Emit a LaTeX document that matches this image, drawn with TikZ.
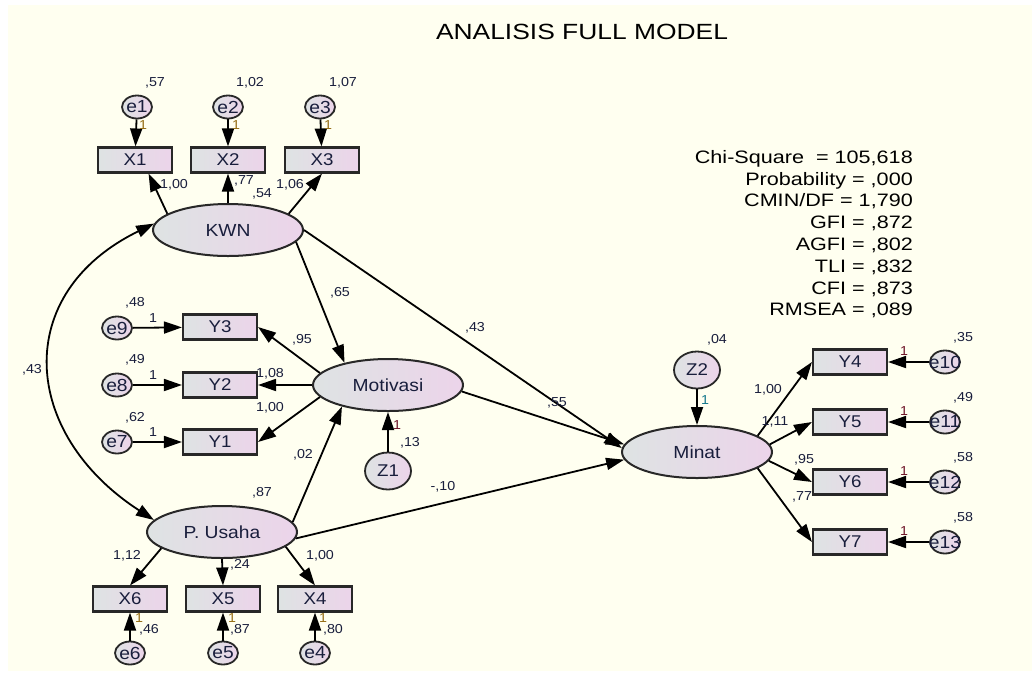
\documentclass[tikz,border=0pt]{standalone}
\usepackage{fontspec}
\setmainfont{Liberation Sans}[FakeStretch=1.1]
\newfontfamily\widefont{Liberation Sans}[FakeStretch=1.2]
\usetikzlibrary{arrows.meta,shapes.geometric,calc}
\definecolor{bgc}{RGB}{255,255,240}
\definecolor{gl}{RGB}{222,227,227}
\definecolor{gr}{RGB}{236,212,234}
\definecolor{edgec}{RGB}{40,40,40}
\definecolor{txt}{RGB}{25,30,60}
\definecolor{oliveone}{RGB}{150,110,20}
\definecolor{maroonone}{RGB}{110,20,40}
\definecolor{tealone}{RGB}{20,120,140}
\begin{document}
\begin{tikzpicture}[x=1pt,y=1pt,
  obs/.style={draw=edgec,line width=2.1pt,minimum width=74pt,minimum height=25pt,inner sep=0pt,
    left color=gl,right color=gr,font=\fontsize{17}{17}\selectfont,text=txt},
  lat/.style={ellipse,draw=edgec,line width=2pt,minimum width=150pt,minimum height=52pt,inner sep=0pt,
    left color=gl,right color=gr,font=\fontsize{17.5}{17.5}\selectfont,text=txt},
  err/.style={ellipse,draw=edgec,line width=1.8pt,minimum width=30pt,minimum height=23pt,inner sep=0pt,
    left color=gl,right color=gr},
  errtxt/.style={font=\fontsize{17.5}{17.5}\selectfont,text=txt,inner sep=0pt},
  dist/.style={ellipse,draw=edgec,line width=1.8pt,minimum width=46pt,minimum height=37pt,inner sep=0pt,
    left color=gl,right color=gr,font=\fontsize{17}{17}\selectfont,text=txt},
  arr/.style={-{Triangle[length=18pt,width=12pt]},line width=1.8pt},
  covarr/.style={{Triangle[length=18pt,width=12pt]}-{Triangle[length=18pt,width=12pt]},line width=1.8pt},
  num/.style={font=\fontsize{13}{13}\selectfont,text=txt,inner sep=0pt},
  one/.style={font=\fontsize{13}{13}\selectfont,inner sep=0pt},
]
% background
\fill[white] (0,0) rectangle (1032,-673);
\fill[bgc] (8,-5) rectangle (1032,-671);

% title
\node[font=\widefont\fontsize{22}{22}\selectfont] (title) at (582,-32) {ANALISIS FULL MODEL};

% statistics
\node[anchor=north east,align=right,inner sep=0pt,font=\widefont\fontsize{18}{21.8}\selectfont] (stats) at (913,-150)
 {Chi-Square\ \ = 105,618\\Probability = ,000\\CMIN/DF = 1,790\\GFI = ,872\\AGFI = ,802\\TLI = ,832\\CFI = ,873\\RMSEA = ,089};

% latent variables
\node[lat] (KWN) at (228,-230) {KWN};
\node[lat] (Mot) at (388,-385) {Motivasi};
\node[lat] (PU) at (222,-532) {P. Usaha};
\node[lat] (Minat) at (697,-452) {Minat};

% observed
\node[obs] (X1) at (135,-160) {X1};
\node[obs] (X2) at (228,-160) {X2};
\node[obs] (X3) at (322,-160) {X3};
\node[obs] (Y3) at (220,-327) {Y3};
\node[obs] (Y2) at (220,-385) {Y2};
\node[obs] (Y1) at (220,-442) {Y1};
\node[obs] (X6) at (130,-599) {X6};
\node[obs] (X5) at (223,-599) {X5};
\node[obs] (X4) at (315,-599) {X4};
\node[obs] (Y4) at (850,-362) {Y4};
\node[obs] (Y5) at (850,-422) {Y5};
\node[obs] (Y6) at (850,-482) {Y6};
\node[obs] (Y7) at (850,-542) {Y7};

% errors
\node[err,label={[errtxt]center:e1}] (e1) at (137,-107) {};
\node[err,label={[errtxt]center:e2}] (e2) at (228,-107) {};
\node[err,label={[errtxt]center:e3}] (e3) at (320,-107) {};
\node[err,label={[errtxt]center:e9}] (e9) at (117,-328) {};
\node[err,label={[errtxt]center:e8}] (e8) at (117,-385) {};
\node[err,label={[errtxt]center:e7}] (e7) at (117,-442) {};
\node[err,label={[errtxt]center:e6}] (e6) at (130,-653) {};
\node[err,label={[errtxt]center:e5}] (e5) at (223,-653) {};
\node[err,label={[errtxt]center:e4}] (e4) at (315,-653) {};
\node[err,label={[errtxt]center:e10}] (e10) at (945,-362) {};
\node[err,label={[errtxt]center:e11}] (e11) at (945,-422) {};
\node[err,label={[errtxt]center:e12}] (e12) at (945,-482) {};
\node[err,label={[errtxt]center:e13}] (e13) at (945,-542) {};

% disturbances
\node[dist] (Z1) at (388,-471) {Z1};
\node[dist] (Z2) at (697,-370) {Z2};

% connectors: errors to indicators
\draw[arr] (e1) -- (X1);
\draw[arr] (e2) -- (X2);
\draw[arr] (e3) -- (X3);
\draw[arr] (e9) -- (Y3);
\draw[arr] (e8) -- (Y2);
\draw[arr] (e7) -- (Y1);
\draw[arr] (e6) -- (X6);
\draw[arr] (e5) -- (X5);
\draw[arr] (e4) -- (X4);
\draw[arr] (e10) -- (Y4);
\draw[arr] (e11) -- (Y5);
\draw[arr] (e12) -- (Y6);
\draw[arr] (e13) -- (Y7);
\draw[arr] (Z1) -- (Mot);
\draw[arr] (Z2) -- (Minat);

% loadings
\draw[arr] (KWN.165) -- (X1.-45);
\draw[arr] (KWN.north) -- (X2.south);
\draw[arr] (KWN.15) -- (X3.south);
\draw[arr] (Mot.170) -- (Y3.east);
\draw[arr] (Mot.west) -- (Y2.east);
\draw[arr] (Mot.190) -- (Y1.east);
\draw[arr] (PU.195) -- (X6.north);
\draw[arr] (PU.south) -- (X5.north);
\draw[arr] (PU.-13) -- (X4.north);
\draw[arr] (Minat.15) -- (Y4.west);
\draw[arr] (Minat.6) -- (Y5.west);
\draw[arr] (Minat.-7) -- (Y6.west);
\draw[arr] (Minat.-15) -- (Y7.west);

% structural paths
\draw[arr] (KWN.-10) -- (Mot.153);
\draw[arr] (KWN.east) -- (Minat.177);
\draw[arr] (Mot.-5) -- (Minat.174);
\draw[arr] (PU.8) -- (Mot.205);
\draw[arr] (PU.-5) -- (Minat.186);

% covariance
\draw[covarr] (KWN.175) .. controls +(206:159) and +(147:159) .. (PU.170);

% numbers
\node[num] (v1) at (155,-83) {,57};
\node[num] (v2) at (250,-83) {1,02};
\node[num] (v3) at (343,-83) {1,07};
\node[one,text=oliveone] (o1) at (143,-125) {1};
\node[one,text=oliveone] (o2) at (236,-125) {1};
\node[one,text=oliveone] (o3) at (328,-125) {1};
\node[num] (l1) at (174,-185) {1,00};
\node[num] (l2) at (244,-181) {,77};
\node[num] (r1) at (262,-194) {,54};
\node[num] (l3) at (290,-185) {1,06};
\node[num] (p1) at (340,-293) {,65};
\node[num] (p2) at (475,-328) {,43};
\node[num] (v9) at (135,-303) {,48};
\node[one,text=txt] (o9) at (153,-318) {1};
\node[num] (v8) at (135,-360) {,49};
\node[one,text=txt] (o8) at (153,-375) {1};
\node[num] (v7) at (135,-418) {,62};
\node[one,text=txt] (o7) at (153,-432) {1};
\node[num] (l9) at (302,-340) {,95};
\node[num] (l8) at (270,-374) {1,08};
\node[num] (l7) at (270,-408) {1,00};
\node[num] (c1) at (32,-370) {,43};
\node[num] (p3) at (557,-403) {,55};
\node[one,text=maroonone] (oz1) at (397,-425) {1};
\node[num] (vz1) at (410,-443) {,13};
\node[num] (p4) at (303,-455) {,02};
\node[num] (r2) at (262,-493) {,87};
\node[num] (p5) at (443,-487) {-,10};
\node[num] (l6) at (127,-556) {1,12};
\node[num] (l5) at (240,-565) {,24};
\node[num] (l4) at (320,-556) {1,00};
\node[one,text=oliveone] (o6) at (139,-618) {1};
\node[num] (v6) at (149,-630) {,46};
\node[one,text=oliveone] (o5) at (232,-618) {1};
\node[num] (v5) at (240,-630) {,87};
\node[one,text=oliveone] (o4) at (323,-618) {1};
\node[num] (v4) at (333,-630) {,80};
\node[num] (vz2) at (717,-340) {,04};
\node[one,text=tealone] (oz2) at (705,-400) {1};
\node[num] (m4) at (768,-390) {1,00};
\node[num] (m5) at (775,-422) {1,11};
\node[num] (m6) at (804,-460) {,95};
\node[num] (m7) at (802,-497) {,77};
\node[num] (v10) at (963,-338) {,35};
\node[one,text=maroonone] (o10) at (904,-351) {1};
\node[num] (v11) at (963,-398) {,49};
\node[one,text=maroonone] (o11) at (904,-411) {1};
\node[num] (v12) at (963,-458) {,58};
\node[one,text=maroonone] (o12) at (904,-471) {1};
\node[num] (v13) at (963,-518) {,58};
\node[one,text=maroonone] (o13) at (904,-531) {1};
\end{tikzpicture}
\end{document}
